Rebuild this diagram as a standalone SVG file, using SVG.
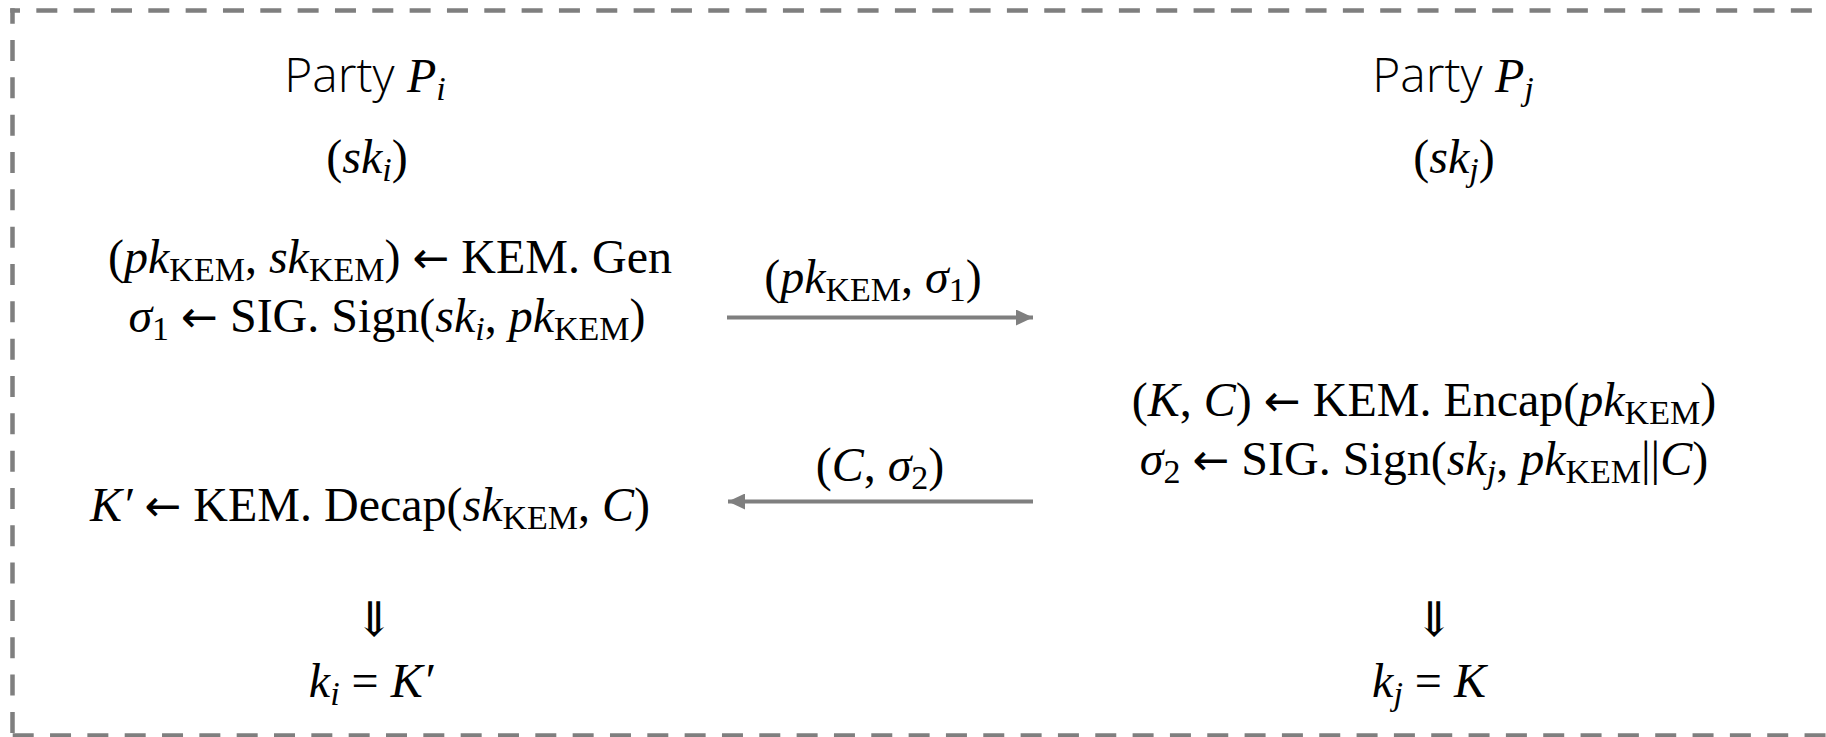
<svg xmlns="http://www.w3.org/2000/svg" width="1826" height="737" viewBox="0 0 1826 737">
<style>
.m{font-family:"Liberation Serif","DejaVu Serif",serif;font-size:48px;fill:#000;text-anchor:middle}
.h{font-family:"Open Sans","Noto Sans",sans-serif;font-weight:300;font-size:48px;fill:#000;text-anchor:middle}
.f{font-family:"Liberation Serif","DejaVu Serif",serif;font-size:48px;font-weight:400}
.a{font-family:"DejaVu Sans",sans-serif;font-size:44px}
.i{font-style:italic}
.s{font-size:34px}
.brd{stroke:#7f7f7f;stroke-width:4.5;fill:none;stroke-dasharray:21 16.33}
.con{stroke:#7f7f7f;stroke-width:4;fill:none}
</style>
<defs>
<marker id="ah" markerUnits="userSpaceOnUse" markerWidth="18" markerHeight="16" refX="17" refY="8" orient="auto">
<path d="M0,0 L17,8 L0,16 Z" fill="#7f7f7f"/>
</marker>
</defs>
<g id="frame">
<line class="brd" x1="10.25" y1="10.5" x2="1826" y2="10.5" stroke-dashoffset="11.25"/>
<line class="brd" x1="12.5" y1="8.25" x2="12.5" y2="733.5" stroke-dashoffset="5.58"/>
<line class="brd" x1="12.7" y1="735.5" x2="1826" y2="735.5"/>
</g>
<g id="party-i">
<text class="h" x="365" y="92">Party <tspan class="f i">P</tspan><tspan class="f i s" dy="8">i</tspan></text>
<text class="m" x="367" y="173">(<tspan class="i">sk</tspan><tspan class="i s" dy="8">i</tspan><tspan dy="-8">)</tspan></text>
<text class="m" x="390" y="273">(<tspan class="i">pk</tspan><tspan class="s" dy="8">KEM</tspan><tspan dy="-8">, </tspan><tspan class="i">sk</tspan><tspan class="s" dy="8">KEM</tspan><tspan dy="-8">) </tspan><tspan class="a">←</tspan> KEM. Gen</text>
<text class="m" x="387" y="332"><tspan class="i">σ</tspan><tspan class="s" dy="8">1</tspan><tspan dy="-8"> </tspan><tspan class="a">←</tspan> SIG. Sign(<tspan class="i">sk</tspan><tspan class="i s" dy="8">i</tspan><tspan dy="-8">, </tspan><tspan class="i">pk</tspan><tspan class="s" dy="8">KEM</tspan><tspan dy="-8">)</tspan></text>
<text class="m" x="370" y="521"><tspan class="i">K′</tspan> <tspan class="a">←</tspan> KEM. Decap(<tspan class="i">sk</tspan><tspan class="s" dy="8">KEM</tspan><tspan dy="-8">, </tspan><tspan class="i">C</tspan>)</text>
<text class="m" x="374" y="636">⇓</text>
<text class="m" x="371" y="697"><tspan class="i">k</tspan><tspan class="i s" dy="8">i</tspan><tspan dy="-8"> = </tspan><tspan class="i">K′</tspan></text>
</g>
<g id="party-j">
<text class="h" x="1453" y="92">Party <tspan class="f i">P</tspan><tspan class="f i s" dy="8">j</tspan></text>
<text class="m" x="1454" y="173">(<tspan class="i">sk</tspan><tspan class="i s" dy="8">j</tspan><tspan dy="-8">)</tspan></text>
<text class="m" x="1424" y="416">(<tspan class="i">K</tspan>, <tspan class="i">C</tspan>) <tspan class="a">←</tspan> KEM. Encap(<tspan class="i">pk</tspan><tspan class="s" dy="8">KEM</tspan><tspan dy="-8">)</tspan></text>
<text class="m" x="1424" y="475"><tspan class="i">σ</tspan><tspan class="s" dy="8">2</tspan><tspan dy="-8"> </tspan><tspan class="a">←</tspan> SIG. Sign(<tspan class="i">sk</tspan><tspan class="i s" dy="8">j</tspan><tspan dy="-8">, </tspan><tspan class="i">pk</tspan><tspan class="s" dy="8">KEM</tspan><tspan dy="-8">||</tspan><tspan class="i">C</tspan>)</text>
<text class="m" x="1434" y="636">⇓</text>
<text class="m" x="1429" y="697"><tspan class="i">k</tspan><tspan class="i s" dy="8">j</tspan><tspan dy="-8"> = </tspan><tspan class="i">K</tspan></text>
</g>
<g id="connectors">
<line class="con" x1="727" y1="317.5" x2="1033" y2="317.5" marker-end="url(#ah)"/>
<line class="con" x1="1033" y1="501.5" x2="728" y2="501.5" marker-end="url(#ah)"/>
<text class="m" x="873" y="293">(<tspan class="i">pk</tspan><tspan class="s" dy="8">KEM</tspan><tspan dy="-8">, </tspan><tspan class="i">σ</tspan><tspan class="s" dy="8">1</tspan><tspan dy="-8">)</tspan></text>
<text class="m" x="880" y="481">(<tspan class="i">C</tspan>, <tspan class="i">σ</tspan><tspan class="s" dy="8">2</tspan><tspan dy="-8">)</tspan></text>
</g>
</svg>
